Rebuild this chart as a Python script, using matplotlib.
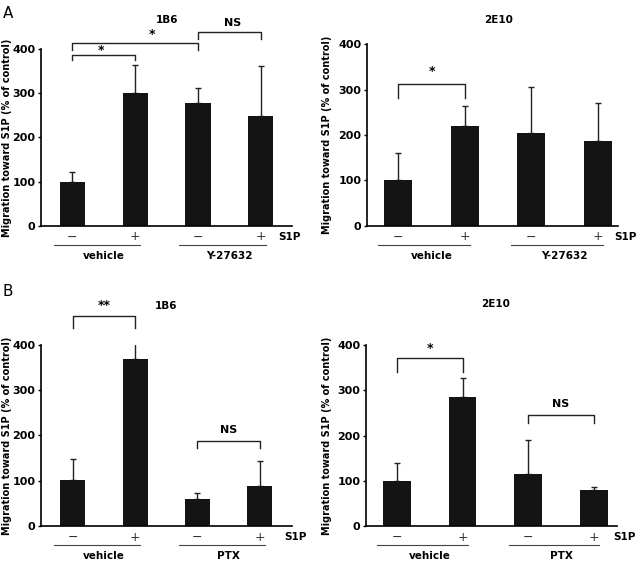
import matplotlib.pyplot as plt
from matplotlib.transforms import offset_copy

signs = ['\u2212', '+', '\u2212', '+']

# panel A: Y-27632
groups_a = ['vehicle', 'Y-27632']
a_1b6 = [100, 300, 277, 248]
a_1b6_err = [21, 63, 34, 112]
a_2e10 = [100, 220, 204, 187]
a_2e10_err = [60, 44, 102, 84]

# panel B: PTX
groups_b = ['vehicle', 'PTX']
b_1b6 = [101, 368, 59, 89]
b_1b6_err = [47, 60, 13, 55]
b_2e10 = [99, 286, 114, 80]
b_2e10_err = [40, 41, 77, 6]

fig = plt.figure(figsize=(6.39, 5.73), dpi=100)


def panel(rect, vals, errs, groups, title, title_y, xlim, width, s1p_x, lab_x, brackets):
    ax = fig.add_axes(rect)
    x = range(len(vals))
    ax.bar(x, vals, width=width, color='#141414', zorder=2)
    ax.errorbar(x, vals, yerr=[[0] * len(errs), errs], fmt='none', ecolor='#222222',
                elinewidth=1, capsize=2.5, capthick=1, zorder=1)
    ax.set_xlim(*xlim)
    ax.set_ylim(0, 400)
    ax.set_yticks([0, 100, 200, 300, 400])
    ax.set_xticks([])
    for s in ['top', 'right']:
        ax.spines[s].set_visible(False)
    ax.spines['left'].set_linewidth(1.2)
    ax.spines['bottom'].set_linewidth(1.2)
    ax.tick_params(axis='y', length=2, width=1, pad=2, labelsize=8)
    for t in ax.get_yticklabels():
        t.set_fontweight('bold')
    ax.set_ylabel('Migration toward S1P (% of control)', fontsize=7,
                  fontweight='bold')
    # lab_x is the label's right edge in figure fraction
    ax.yaxis.set_label_coords((lab_x - rect[0]) / rect[2], 0.5)
    ax.text(1.5, title_y, title, ha='center', va='center', fontsize=7.5,
            fontweight='bold', clip_on=False)

    tr = ax.get_xaxis_transform()
    tr_sign = offset_copy(tr, fig=fig, y=-11, units='dots')
    tr_line = offset_copy(tr, fig=fig, y=-19, units='dots')
    tr_grp = offset_copy(tr, fig=fig, y=-30, units='dots')
    for i, s in enumerate(signs):
        ax.text(i, 0, s, transform=tr_sign, ha='center', va='center', fontsize=9,
                color='#333333')
    ax.text(s1p_x, 0, 'S1P', transform=tr_sign, ha='left', va='center',
            fontsize=7.5, fontweight='bold')
    for g, name in enumerate(groups):
        x0 = 2 * g
        ax.plot([x0 - 0.3, x0 + 1.08], [0, 0], transform=tr_line, color='#444444',
                lw=0.8, clip_on=False)
        ax.text(x0 + 0.5, 0, name, transform=tr_grp, ha='center', va='center',
                fontsize=7.5, fontweight='bold')

    for i, j, ytop, yl, yr, lab, ylab, xlab in brackets:
        ax.plot([i, i, j, j], [yl, ytop, ytop, yr], color='#222222', lw=1,
                clip_on=False)
        ax.text(xlab, ylab, lab, ha='center', va='center', fontsize=9 if '*' in lab else 8,
                fontweight='bold', clip_on=False)
    return ax


panel([0.0642, 0.6056, 0.393, 0.3094], a_1b6, a_1b6_err, groups_a, '1B6', 465,
      (-0.5, 3.5), 0.4, 3.28, 0.0195,
      [(0, 1, 386, 374, 375, '*', 395, 0.45),
       (0, 2, 413, 397, 396, '*', 431, 1.27),
       (2, 3, 438, 421, 421, 'NS', 458, 2.55)])
panel([0.5743, 0.6056, 0.3928, 0.3176], a_2e10, a_2e10_err, groups_a, '2E10', 453,
      (-0.47, 3.3), 0.42, 3.25, 0.52,
      [(0, 1, 311, 282, 282, '*', 340, 0.5)])
panel([0.0642, 0.082, 0.393, 0.316], b_1b6, b_1b6_err, groups_b, '1B6', 485,
      (-0.51, 3.52), 0.4, 3.4, 0.0195,
      [(0, 1, 463, 437, 437, '**', 488, 0.5),
       (2, 3, 188, 172, 172, 'NS', 212, 2.5)])
panel([0.5727, 0.082, 0.3928, 0.3159], b_2e10, b_2e10_err, groups_b, '2E10', 490,
      (-0.47, 3.35), 0.42, 3.3, 0.52,
      [(0, 1, 372, 341, 341, '*', 392, 0.5),
       (2, 3, 245, 228, 228, 'NS', 270, 2.5)])

fig.text(0.004, 0.99, 'A', ha='left', va='top', fontsize=11)
fig.text(0.004, 0.505, 'B', ha='left', va='top', fontsize=11)

fig.savefig('out.png', dpi=100)
